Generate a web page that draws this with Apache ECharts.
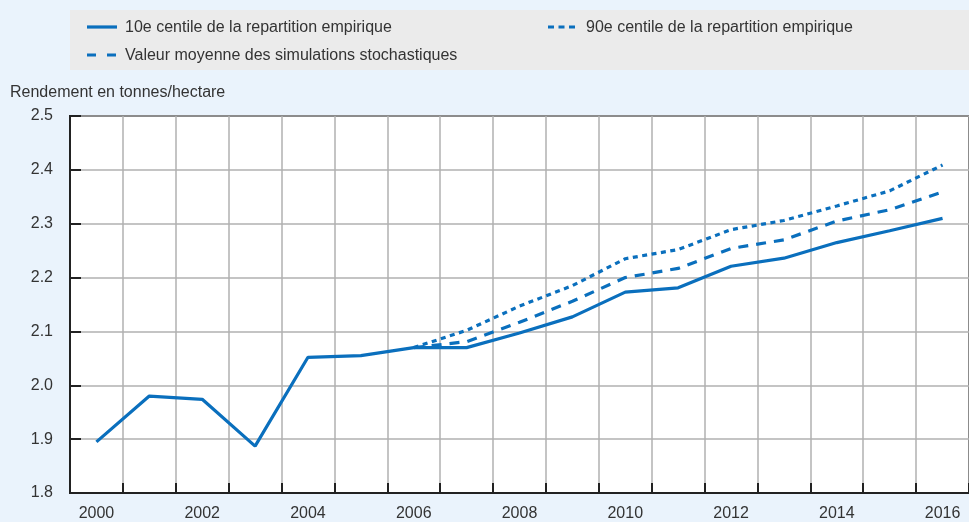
<!DOCTYPE html>
<html><head><meta charset="utf-8">
<script src="https://cdn.jsdelivr.net/npm/echarts@6/dist/echarts.min.js"></script>
<style>html,body{margin:0;padding:0;background:#eaf3fc;}#c{width:969px;height:522px;}</style>
</head><body><div id="c"></div>
<script>
const years = ['2000','2001','2002','2003','2004','2005','2006','2007','2008','2009','2010','2011','2012','2013','2014','2015','2016'];
const p10 = [1.895,1.980,1.974,1.887,2.052,2.055,2.070,2.070,2.097,2.127,2.173,2.181,2.221,2.236,2.265,2.287,2.310];
const meanSim = [null,null,null,null,null,null,2.070,2.081,2.117,2.156,2.200,2.217,2.254,2.270,2.305,2.326,2.359];
const p90 = [null,null,null,null,null,null,2.070,2.102,2.147,2.185,2.235,2.252,2.289,2.306,2.333,2.361,2.409];
const names = ['10e centile de la repartition empirique','90e centile de la repartition empirique','Valeur moyenne des simulations stochastiques'];
const yName = 'Rendement en tonnes/hectare';
const FONT = "'Liberation Sans',Arial,sans-serif";
const BLUE = '#0a6fbd';
const TXT = '#333';
const chart = echarts.init(document.getElementById('c'));

function legendItem(x, y, w, dash, label, tx) {
  return [
    {type:'line', shape:{x1:x, y1:y, x2:x+w, y2:y}, style:{stroke:BLUE, lineWidth:3.2, lineDash:dash}},
    {type:'text', x:tx, y:y+1, style:{text:label, fontFamily:FONT, fontSize:16, fill:TXT, verticalAlign:'middle'}}
  ];
}

chart.setOption({
  backgroundColor:'#eaf3fc',
  animation:false,
  graphic:[
    {type:'rect', shape:{x:70,y:10,width:899,height:60}, style:{fill:'#ebebeb'}, z:-1},
    ...legendItem(87, 27, 30, null, names[0], 125),
    ...legendItem(548, 27, 27, [6,4.5], names[1], 586),
    ...legendItem(87, 55, 30, [9,11], names[2], 125),
    {type:'text', x:10, y:93, style:{text:yName, fontFamily:FONT, fontSize:16, fill:TXT, verticalAlign:'middle'}}
  ],
  grid:{left:70, top:116, width:906, height:378, show:true, borderColor:'#222', borderWidth:2, backgroundColor:'#fff'},
  xAxis:{type:'category', data:years, boundaryGap:true,
    axisLine:{lineStyle:{color:'#222',width:2}},
    axisTick:{show:true, inside:true, length:10, interval:0, lineStyle:{color:'#222',width:2}},
    axisLabel:{interval:1, margin:13, fontFamily:FONT, fontSize:16, color:TXT},
    splitLine:{show:true, interval:0, lineStyle:{color:'#b0b0b0',width:1.5}}},
  yAxis:{type:'value', min:1.8, max:2.5, interval:0.1,
    axisLine:{show:true, lineStyle:{color:'#222',width:2}},
    axisTick:{show:true, inside:true, length:11, lineStyle:{color:'#222',width:2}},
    axisLabel:{margin:17, fontFamily:FONT, fontSize:16, color:TXT, formatter:v=>v.toFixed(1)},
    splitLine:{show:true, lineStyle:{color:'#b0b0b0',width:1.5}}},
  series:[
    {name:names[0], type:'line', data:p10, showSymbol:false, symbol:'none', lineStyle:{color:BLUE,width:3.2}, itemStyle:{color:BLUE}, z:5},
    {name:names[1], type:'line', data:p90, showSymbol:false, symbol:'none', lineStyle:{color:BLUE,width:3.2,type:[5,4.5]}, itemStyle:{color:BLUE}, z:4},
    {name:names[2], type:'line', data:meanSim, showSymbol:false, symbol:'none', lineStyle:{color:BLUE,width:3.2,type:[10,8]}, itemStyle:{color:BLUE}, z:4}
  ]
});
</script></body></html>
